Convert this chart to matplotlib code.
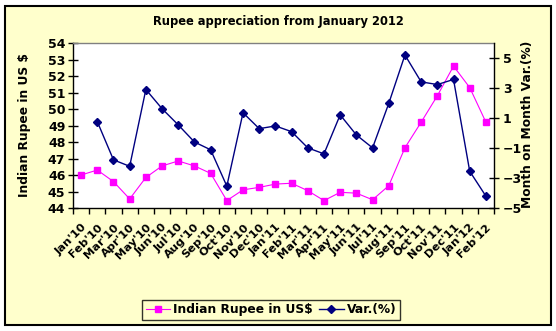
import matplotlib
matplotlib.use("Agg")
import matplotlib.pyplot as plt
import matplotlib.transforms as mtransforms
from matplotlib.patches import Rectangle
import numpy as np

plt.rcParams['font.family'] = ['DejaVu Sans']
plt.rcParams['font.weight'] = 'bold'

months = ["Jan'10", "Feb'10", "Mar'10", "Apr'10", "May'10", "Jun'10", "Jul'10",
          "Aug'10", "Sep'10", "Oct'10", "Nov'10", "Dec'10", "Jan'11", "Feb'11",
          "Mar'11", "Apr'11", "May'11", "Jun'11", "Jul'11", "Aug'11", "Sep'11",
          "Oct'11", "Nov'11", "Dec'11", "Jan'12", "Feb'12"]

rupee_usd = [46.0, 46.3, 45.6, 44.55, 45.85, 46.55, 46.85, 46.55, 46.1, 44.45,
             45.1, 45.25, 45.45, 45.5, 45.05, 44.45, 44.95, 44.9, 44.5, 45.35,
             47.65, 49.2, 50.8, 52.6, 51.3, 49.2]

mom_var = [None, 0.76, -1.79, -2.22, 2.90, 1.62, 0.54, -0.60, -1.12, -3.54,
           1.35, 0.29, 0.47, 0.09, -0.99, -1.39, 1.21, -0.13, -0.99, 1.97,
           5.20, 3.41, 3.23, 3.57, -2.55, -4.21]

W, H = 556, 331
fig = plt.figure(figsize=(W / 100, H / 100), dpi=100, facecolor='white')

# chart area with border
fig.patches.append(Rectangle((5 / W, 6 / H), 546 / W, 319 / H, transform=fig.transFigure,
                             facecolor='#FFFFCC', edgecolor='black', linewidth=1.5,
                             zorder=-10))

ax = fig.add_axes([73 / W, 123 / H, 421 / W, 165 / H])
ax.set_facecolor('white')
x = np.arange(len(months))

l1, = ax.plot(x, rupee_usd, color='#FF00FF', marker='s', markersize=4.5,
              linewidth=0.8, label='Indian Rupee in US$', zorder=3)
ax.set_ylim(44, 54)
ax.set_yticks(np.arange(44, 55, 1))
ax.set_xlim(-0.5, len(months) - 0.5)

# category boundaries carry the tick marks, labels sit at the centres
ax.set_xticks(np.arange(-0.5, len(months), 1.0))
ax.set_xticklabels([])
ax.set_xticks(x, minor=True)
ax.set_xticklabels(months, minor=True, rotation=45, ha='right', va='top',
                   rotation_mode='anchor', fontsize=8.2, fontweight='bold')
shift = mtransforms.ScaledTranslation(4 / 100, 0, fig.dpi_scale_trans)
for lbl in ax.get_xticklabels(minor=True):
    lbl.set_transform(lbl.get_transform() + shift)
ax.tick_params(axis='x', which='major', direction='out', length=4, width=1, color='black')
ax.tick_params(axis='x', which='minor', length=0, pad=10)
ax.tick_params(axis='y', direction='inout', length=7, width=1, labelsize=9, pad=2)

for s in ['left', 'bottom']:
    ax.spines[s].set_color('black')
    ax.spines[s].set_linewidth(1)
ax.spines['top'].set_color('#808080')
ax.spines['top'].set_linewidth(1)
ax.spines['right'].set_visible(False)

ax2 = ax.twinx()
var_x = [i for i, v in enumerate(mom_var) if v is not None]
var_y = [v for v in mom_var if v is not None]
l2, = ax2.plot(var_x, var_y, color='#000080', marker='D', markersize=4.5,
               linewidth=1.0, label='Var.(%)', zorder=3)
ax2.set_ylim(-5, 6)
ax2.set_yticks([-5, -3, -1, 1, 3, 5])
ax2.tick_params(axis='y', direction='inout', length=7, width=1, labelsize=9, pad=3)
for s in ['left', 'bottom', 'top']:
    ax2.spines[s].set_visible(False)
ax2.spines['right'].set_color('black')
ax2.spines['right'].set_linewidth(1)

for t in ax.get_yticklabels() + ax2.get_yticklabels():
    t.set_fontweight('bold')

fig.text(278 / W, 1 - 22 / H, 'Rupee appreciation from January 2012',
         ha='center', va='center', fontsize=8.3, fontweight='bold')
fig.text(25 / W, 1 - 125 / H, 'Indian Rupee in US $', rotation=90,
         ha='center', va='center', fontsize=8.8, fontweight='bold')
fig.text(528 / W, 1 - 124 / H, 'Month on Month Var.(%)', rotation=90,
         ha='center', va='center', fontsize=8.8, fontweight='bold')

leg = fig.legend(handles=[l1, l2], loc='center', bbox_to_anchor=(271 / W, 1 - 310 / H),
                 ncol=2, frameon=True, fancybox=False, fontsize=8.8, handlelength=2.0,
                 borderpad=0.3, borderaxespad=0, columnspacing=0.5, handletextpad=0.25)
leg.get_frame().set_edgecolor('black')
leg.get_frame().set_facecolor('#FFFFCC')
leg.get_frame().set_linewidth(1)
for t in leg.get_texts():
    t.set_fontweight('bold')

fig.savefig('out.png', dpi=100, facecolor='white')
